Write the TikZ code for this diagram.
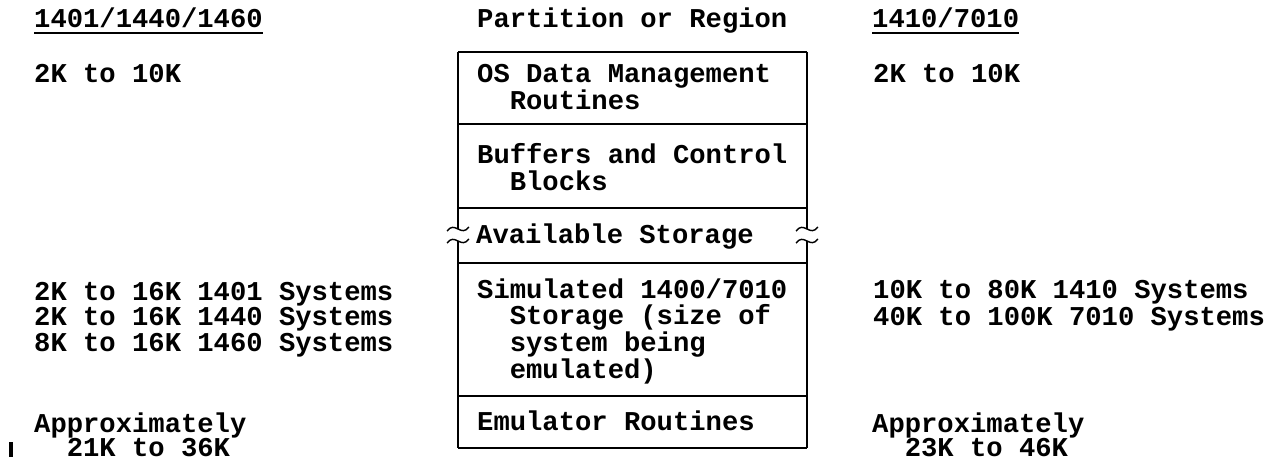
\documentclass[tikz,border=0pt]{standalone}
\usepackage{fontspec}
\setmonofont{Liberation Mono}
\newcommand\lns[2]{\vtop{\baselineskip=#1\relax\lineskiplimit=-100pt\halign{##\hfil\cr#2\crcr}}}
\begin{document}
\begin{tikzpicture}[x=1pt,y=-1pt,
  txt/.style={anchor=base west,inner sep=0pt,
    font=\fontsize{27.2}{26.5}\selectfont\ttfamily\bfseries},
  boxline/.style={line width=1.4pt},
  uline/.style={line width=2pt},
  pics/brkmark/.style={code={
    \draw[boxline] (-11,2) .. controls (-7,-3) and (-4,-2) .. (0,0)
                   .. controls (4,2) and (7,3) .. (11,-2);}}
]
\useasboundingbox (0,0) rectangle (1280,460);

% left column
\node[txt] (h1) at (34,28) {1401/1440/1460};
\draw[uline] (h1.base west) ++(0,5) coordinate (u1a) -- (h1.base east |- u1a);
\node[txt] (l1) at (34,83) {2K to 10K};
\node[txt] (l2) at (34,300) {\lns{25.5pt}{2K to 16K 1401 Systems\cr 2K to 16K 1440 Systems\cr 8K to 16K 1460 Systems}};
\node[txt] (l3) at (34,432) {\lns{24.5pt}{Approximately\cr\phantom{Ap}21K to 36K}};
\coordinate (rb1) at (11,442);
\coordinate (rb2) at (11,457);
\draw[line width=3.2pt] (rb1) -- (rb2);

% centre
\node[txt] (title) at (477,28) {Partition or Region};
\coordinate (tl) at (458,52);
\coordinate (tr) at (807,52);
\coordinate (bl) at (458,448);
\coordinate (br) at (807,448);
\foreach \y/\n in {124/a,208/b,263/c,396/d}{
  \coordinate (L\n) at (458,\y);
  \coordinate (R\n) at (807,\y);
  \draw[boxline] (L\n) -- (R\n);
}
\draw[boxline] (tl) -- (tr);
\draw[boxline] (bl) -- (br);
\coordinate (Lbrk1) at (458,229);
\coordinate (Lbrk2) at (458,241);
\coordinate (Rbrk1) at (807,229);
\coordinate (Rbrk2) at (807,241);
\draw[boxline] (tl) -- (Lbrk1);
\draw[boxline] (Lbrk2) -- (bl);
\draw[boxline] (tr) -- (Rbrk1);
\draw[boxline] (Rbrk2) -- (br);
\pic at (Lbrk1) {brkmark};
\pic at (Lbrk2) {brkmark};
\pic at (Rbrk1) {brkmark};
\pic at (Rbrk2) {brkmark};

\node[txt] (c1) at (477,82) {\lns{28pt}{OS Data Management\cr\phantom{OS}Routines}};
\node[txt] (c2) at (477,163) {\lns{27pt}{Buffers and Control\cr\phantom{Bu}Blocks}};
\node[txt] (c3) at (476,243) {Available Storage};
\node[txt] (c4) at (477,298) {\lns{26.7pt}{Simulated 1400/7010\cr\phantom{Si}Storage (size of\cr\phantom{Si}system being\cr\phantom{Si}emulated)}};
\node[txt] (c5) at (477,430.5) {Emulator Routines};

% right column
\node[txt] (h2) at (872,28) {1410/7010};
\draw[uline] (h2.base west) ++(0,5) coordinate (u2a) -- (h2.base east |- u2a);
\node[txt] (r1) at (873,83) {2K to 10K};
\node[txt] (r2) at (873,298) {\lns{27pt}{10K to 80K 1410 Systems\cr 40K to 100K 7010 Systems}};
\node[txt] (r3) at (872,432) {\lns{24.5pt}{Approximately\cr\phantom{Ap}23K to 46K}};
\end{tikzpicture}
\end{document}
